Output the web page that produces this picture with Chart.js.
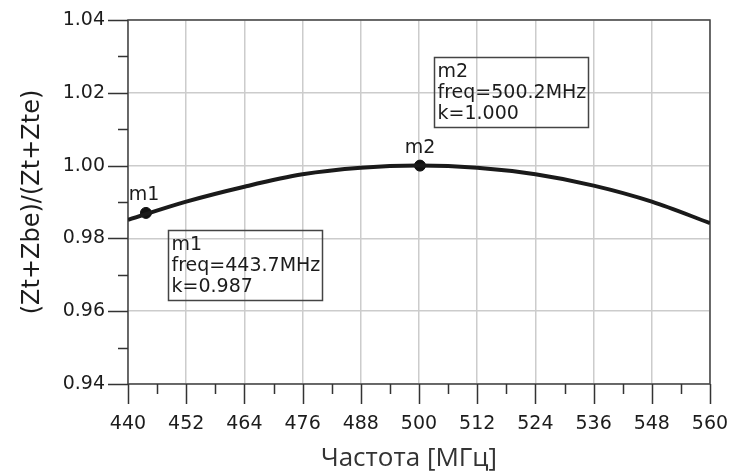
<!DOCTYPE html>
<html>
<head>
<meta charset="utf-8">
<script src="https://cdn.jsdelivr.net/npm/chart.js@4.4.9/dist/chart.umd.min.js"></script>
<style>
  html, body { margin: 0; padding: 0; background: #fff; }
  canvas { display: block; }
</style>
</head>
<body>
<canvas id="chart" width="729" height="475"></canvas>
<script>
// Данные кривой
const freqs = [440, 452, 464, 476, 488, 500, 512, 524, 536, 548, 560];
const kValues = [0.9851, 0.9901, 0.9942, 0.9976, 0.9994, 1.0000, 0.9994, 0.9976, 0.9945, 0.9901, 0.9842];

// Маркеры
const markerNames = ['m1', 'm2'];
const markerFreqs = [443.7, 500.2];
const markerK = [0.987, 1.000];

// Подписи в рамках (левый верхний угол в координатах осей)
const boxLines = [
    ['m1', 'freq=443.7MHz', 'k=0.987'],
    ['m2', 'freq=500.2MHz', 'k=1.000']
];
const boxAnchorX = [448.3, 503.1];
const boxAnchorY = [0.9823, 1.0298];

const FONT = 'DejaVu Sans';
const TEXT = '#1c1c1c';
const isMajorY = v => Math.round(v * 100) % 2 === 0;
const isMajorX = v => Math.round(v - 440) % 12 === 0;

// Засечки разной длины, рамка, подписи маркеров
const decor = {
    id: 'decor',
    beforeDatasetsDraw(chart) {
        const { ctx, chartArea: a, scales: { x, y } } = chart;
        ctx.save();
        ctx.strokeStyle = '#444';
        ctx.lineWidth = 1.5;
        ctx.strokeRect(a.left, a.top, a.right - a.left, a.bottom - a.top);
        ctx.strokeStyle = '#333';
        ctx.beginPath();
        x.ticks.forEach(t => {
            const px = Math.round(x.getPixelForValue(t.value)) + 0.5;
            ctx.moveTo(px, a.bottom);
            ctx.lineTo(px, a.bottom + (isMajorX(t.value) ? 20 : 10));
        });
        y.ticks.forEach(t => {
            const py = Math.round(y.getPixelForValue(t.value)) + 0.5;
            ctx.moveTo(a.left, py);
            ctx.lineTo(a.left - (isMajorY(t.value) ? 20 : 10), py);
        });
        ctx.stroke();
        ctx.restore();
    },
    afterDatasetsDraw(chart) {
        const { ctx, scales: { x, y } } = chart;
        ctx.save();
        ctx.font = '19px "' + FONT + '"';
        ctx.fillStyle = TEXT;
        ctx.textBaseline = 'middle';
        ctx.textAlign = 'center';
        markerNames.forEach((n, i) => {
            const px = x.getPixelForValue(markerFreqs[i]);
            const py = y.getPixelForValue(markerK[i]);
            ctx.fillText(n, px - (i === 0 ? 2 : 0), py - 18);
        });
        ctx.textAlign = 'left';
        boxLines.forEach((lines, i) => {
            const bx = Math.round(x.getPixelForValue(boxAnchorX[i])) + 0.5;
            const by = Math.round(y.getPixelForValue(boxAnchorY[i])) + 0.5;
            ctx.strokeStyle = '#444';
            ctx.lineWidth = 1.5;
            ctx.strokeRect(bx, by, 154, 70);
            lines.forEach((s, j) => ctx.fillText(s, bx + 3, by + 15 + j * 21));
        });
        ctx.restore();
    }
};

new Chart(document.getElementById('chart'), {
    type: 'line',
    data: {
        datasets: [
            {
                data: freqs.map((f, i) => ({ x: f, y: kValues[i] })),
                borderColor: '#1a1a1a',
                borderWidth: 4,
                pointRadius: 0,
                cubicInterpolationMode: 'monotone',
                fill: false
            },
            {
                data: markerFreqs.map((f, i) => ({ x: f, y: markerK[i] })),
                showLine: false,
                pointRadius: 5.5,
                pointBackgroundColor: '#111',
                pointBorderColor: '#111',
                clip: false
            }
        ]
    },
    options: {
        responsive: false,
        animation: false,
        layout: { padding: { left: 0, right: 19, top: 20, bottom: 0 } },
        plugins: { legend: { display: false }, tooltip: { enabled: false } },
        scales: {
            x: {
                type: 'linear',
                min: 440,
                max: 560,
                afterFit: s => { s.height = 91; s.paddingLeft = 0; s.paddingRight = 0; },
                ticks: {
                    stepSize: 6,
                    autoSkip: false,
                    maxRotation: 0,
                    padding: 29,
                    color: TEXT,
                    font: { family: FONT, size: 19 },
                    callback: v => isMajorX(v) ? String(v) : ''
                },
                grid: {
                    drawTicks: false,
                    lineWidth: 1.5,
                    color: c => (c.tick && isMajorX(c.tick.value)) ? '#cccccc' : 'rgba(0,0,0,0)'
                },
                border: { display: false },
                title: {
                    display: true,
                    text: 'Частота [МГц]   ',
                    color: '#333',
                    font: { family: 'Open Sans', size: 26 },
                    padding: { top: 0, bottom: 1 }
                }
            },
            y: {
                min: 0.94,
                max: 1.04,
                afterFit: s => { s.width = 128; s.paddingTop = 0; s.paddingBottom = 0; },
                ticks: {
                    stepSize: 0.01,
                    autoSkip: false,
                    padding: 23,
                    color: TEXT,
                    font: { family: FONT, size: 19 },
                    callback: v => isMajorY(v) ? v.toFixed(2) : ''
                },
                grid: {
                    drawTicks: false,
                    lineWidth: 1.5,
                    color: c => (c.tick && isMajorY(c.tick.value)) ? '#cccccc' : 'rgba(0,0,0,0)'
                },
                border: { display: false },
                title: {
                    display: true,
                    text: '(Zt+Zbe)/(Zt+Zte)',
                    color: TEXT,
                    font: { family: FONT, size: 24 },
                    padding: { top: 18, bottom: 0 }
                }
            }
        }
    },
    plugins: [decor]
});
</script>
</body>
</html>
